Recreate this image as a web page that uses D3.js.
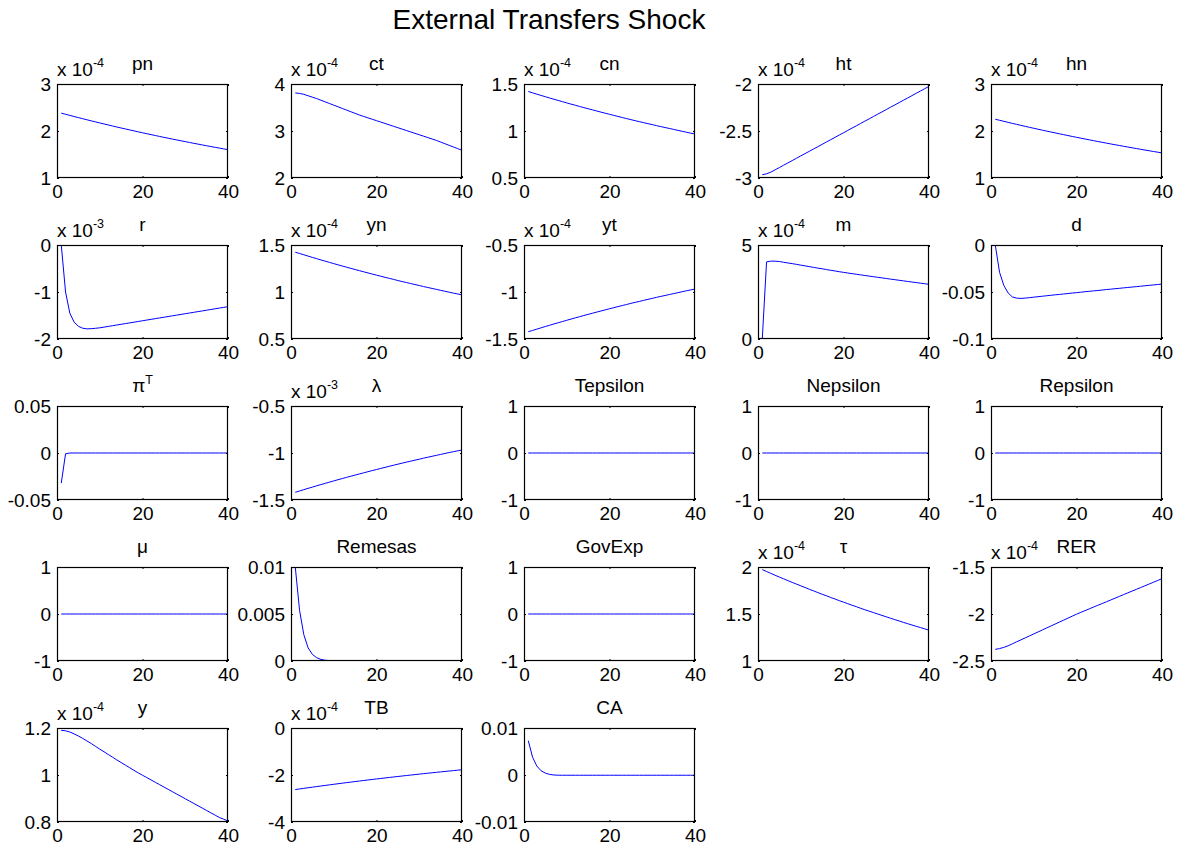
<!DOCTYPE html>
<html>
<head>
<meta charset="utf-8">
<script src="https://cdn.jsdelivr.net/npm/d3@7"></script>
<style>
  html, body { margin: 0; padding: 0; background: #ffffff; }
  svg text { font-family: "Liberation Sans", Arial, Helvetica, sans-serif; fill: #000; }
</style>
</head>
<body>
<svg id="fig" width="1188" height="851"></svg>
<script>
// Impulse responses to an external transfers shock, periods 1..40.
// Values of panels that carry an "x 10^k" label are given in those units.
const periods = [1,2,3,4,5,6,7,8,9,10,11,12,13,14,15,16,17,18,19,20,
                 21,22,23,24,25,26,27,28,29,30,31,32,33,34,35,36,37,38,39,40];

const pn = [2.380,2.356,2.332,2.308,2.285,2.262,2.239,2.216,2.194,2.172,2.150,2.128,2.107,2.085,2.064,2.044,2.023,2.003,1.982,1.962,
            1.943,1.923,1.904,1.884,1.865,1.847,1.828,1.810,1.792,1.774,1.756,1.738,1.721,1.703,1.686,1.669,1.652,1.636,1.619,1.603];
const ct = [3.810,3.800,3.780,3.750,3.720,3.690,3.655,3.620,3.585,3.550,3.515,3.480,3.445,3.410,3.375,3.340,3.310,3.280,3.250,3.220,
            3.190,3.160,3.130,3.100,3.070,3.040,3.010,2.980,2.950,2.920,2.890,2.860,2.830,2.800,2.765,2.730,2.695,2.660,2.625,2.590];
const cn = [1.420,1.406,1.392,1.378,1.365,1.351,1.338,1.325,1.312,1.299,1.286,1.274,1.261,1.249,1.237,1.225,1.213,1.201,1.189,1.178,
            1.166,1.155,1.143,1.132,1.121,1.110,1.099,1.089,1.078,1.068,1.057,1.047,1.037,1.027,1.017,1.007,0.997,0.987,0.977,0.968];
const ht = [-2.965,-2.955,-2.938,-2.913,-2.889,-2.864,-2.839,-2.815,-2.790,-2.765,-2.741,-2.716,-2.691,-2.667,-2.642,-2.617,-2.593,-2.568,-2.543,-2.519,
            -2.494,-2.469,-2.445,-2.420,-2.395,-2.371,-2.346,-2.321,-2.297,-2.272,-2.247,-2.223,-2.198,-2.173,-2.149,-2.124,-2.099,-2.075,-2.050,-2.025];
const hn = [2.250,2.228,2.206,2.184,2.162,2.141,2.120,2.099,2.078,2.058,2.038,2.018,1.998,1.979,1.960,1.941,1.922,1.903,1.884,1.866,
            1.848,1.830,1.812,1.794,1.776,1.759,1.742,1.725,1.708,1.692,1.675,1.659,1.643,1.627,1.611,1.595,1.580,1.564,1.549,1.534];
const r = [0.000,-1.000,-1.450,-1.640,-1.730,-1.770,-1.785,-1.780,-1.772,-1.762,-1.747,-1.732,-1.717,-1.702,-1.687,-1.672,-1.657,-1.642,-1.627,-1.612,
           -1.597,-1.582,-1.567,-1.552,-1.537,-1.522,-1.507,-1.492,-1.477,-1.462,-1.447,-1.432,-1.417,-1.402,-1.387,-1.372,-1.357,-1.342,-1.327,-1.312];
const yn = [1.423,1.410,1.396,1.382,1.368,1.355,1.341,1.328,1.315,1.302,1.289,1.276,1.264,1.251,1.239,1.227,1.215,1.203,1.191,1.179,
            1.168,1.156,1.145,1.134,1.122,1.111,1.101,1.090,1.079,1.069,1.058,1.048,1.038,1.028,1.018,1.008,0.998,0.988,0.979,0.970];
const yt = [-1.422,-1.409,-1.395,-1.381,-1.367,-1.354,-1.340,-1.327,-1.314,-1.301,-1.288,-1.275,-1.263,-1.250,-1.238,-1.226,-1.214,-1.202,-1.190,-1.178,
            -1.167,-1.155,-1.144,-1.133,-1.121,-1.110,-1.100,-1.089,-1.078,-1.068,-1.057,-1.047,-1.037,-1.027,-1.017,-1.007,-0.997,-0.987,-0.978,-0.969];
const m = [0.000,4.100,4.140,4.140,4.120,4.080,4.045,4.010,3.970,3.930,3.890,3.850,3.810,3.770,3.735,3.695,3.655,3.620,3.580,3.545,
           3.510,3.477,3.444,3.411,3.378,3.346,3.314,3.282,3.250,3.218,3.186,3.155,3.124,3.093,3.062,3.031,3.000,2.970,2.940,2.910];
const d = [0.0000,-0.0290,-0.0430,-0.0510,-0.0553,-0.0565,-0.0568,-0.0565,-0.0560,-0.0555,-0.0550,-0.0545,-0.0540,-0.0535,-0.0530,-0.0526,-0.0521,-0.0516,-0.0511,-0.0507,
           -0.0502,-0.0497,-0.0493,-0.0488,-0.0484,-0.0479,-0.0474,-0.0470,-0.0465,-0.0461,-0.0456,-0.0452,-0.0447,-0.0443,-0.0438,-0.0434,-0.0429,-0.0425,-0.0420,-0.0416];
const piT = [-0.0320,-0.0008,0,0,0,0,0,0,0,0,0,0,0,0,0,0,0,0,0,0,
             0,0,0,0,0,0,0,0,0,0,0,0,0,0,0,0,0,0,0,0];
const lambda = [-1.418,-1.404,-1.390,-1.376,-1.363,-1.349,-1.336,-1.323,-1.310,-1.297,-1.284,-1.272,-1.259,-1.247,-1.235,-1.223,-1.211,-1.199,-1.187,-1.176,
                -1.164,-1.153,-1.141,-1.130,-1.119,-1.108,-1.097,-1.087,-1.076,-1.066,-1.055,-1.045,-1.035,-1.025,-1.015,-1.005,-0.995,-0.986,-0.977,-0.968];
const Tepsilon = [0,0,0,0,0,0,0,0,0,0,0,0,0,0,0,0,0,0,0,0,0,0,0,0,0,0,0,0,0,0,0,0,0,0,0,0,0,0,0,0];
const Nepsilon = [0,0,0,0,0,0,0,0,0,0,0,0,0,0,0,0,0,0,0,0,0,0,0,0,0,0,0,0,0,0,0,0,0,0,0,0,0,0,0,0];
const Repsilon = [0,0,0,0,0,0,0,0,0,0,0,0,0,0,0,0,0,0,0,0,0,0,0,0,0,0,0,0,0,0,0,0,0,0,0,0,0,0,0,0];
const mu = [0,0,0,0,0,0,0,0,0,0,0,0,0,0,0,0,0,0,0,0,0,0,0,0,0,0,0,0,0,0,0,0,0,0,0,0,0,0,0,0];
const Remesas = [0.01000,0.00540,0.00280,0.00140,0.00070,0.00035,0.00017,0.00008,0.00004,0.00002,0.00001,0,0,0,0,0,0,0,0,0,
                 0,0,0,0,0,0,0,0,0,0,0,0,0,0,0,0,0,0,0,0];
const GovExp = [0,0,0,0,0,0,0,0,0,0,0,0,0,0,0,0,0,0,0,0,0,0,0,0,0,0,0,0,0,0,0,0,0,0,0,0,0,0,0,0];
const tau = [1.972,1.952,1.932,1.912,1.893,1.874,1.855,1.836,1.818,1.800,1.782,1.763,1.746,1.728,1.710,1.694,1.676,1.660,1.642,1.626,
             1.610,1.593,1.578,1.561,1.545,1.530,1.515,1.500,1.485,1.470,1.455,1.440,1.426,1.411,1.397,1.383,1.369,1.356,1.342,1.328];
const RER = [-2.376,-2.368,-2.355,-2.338,-2.317,-2.296,-2.275,-2.254,-2.233,-2.212,-2.191,-2.170,-2.149,-2.128,-2.107,-2.086,-2.065,-2.044,-2.023,-2.002,
             -1.983,-1.964,-1.945,-1.926,-1.907,-1.889,-1.870,-1.851,-1.832,-1.813,-1.794,-1.775,-1.756,-1.738,-1.719,-1.700,-1.681,-1.662,-1.643,-1.624];
const y = [1.190,1.188,1.183,1.175,1.166,1.156,1.145,1.134,1.122,1.110,1.099,1.087,1.076,1.064,1.053,1.042,1.031,1.020,1.009,0.999,
           0.989,0.979,0.969,0.959,0.949,0.939,0.929,0.919,0.909,0.899,0.889,0.879,0.869,0.859,0.849,0.839,0.829,0.819,0.812,0.804];
const TB = [-2.620,-2.594,-2.568,-2.543,-2.518,-2.493,-2.468,-2.444,-2.419,-2.395,-2.372,-2.348,-2.325,-2.302,-2.279,-2.257,-2.234,-2.212,-2.190,-2.168,
            -2.147,-2.126,-2.104,-2.084,-2.063,-2.043,-2.022,-2.002,-1.983,-1.963,-1.943,-1.924,-1.905,-1.886,-1.868,-1.849,-1.831,-1.813,-1.795,-1.777];
const CA = [0.00730,0.00380,0.00190,0.00090,0.00040,0.00012,0.00000,-0.00004,-0.00005,-0.00005,-0.00005,-0.00005,-0.00005,-0.00005,-0.00005,-0.00005,-0.00005,-0.00005,-0.00005,-0.00005,
            -0.00005,-0.00005,-0.00005,-0.00005,-0.00005,-0.00005,-0.00005,-0.00005,-0.00005,-0.00005,-0.00005,-0.00005,-0.00005,-0.00005,-0.00005,-0.00005,-0.00005,-0.00005,-0.00005,-0.00005];

// Panel titles (base text, optional superscript), series, y limits, y ticks and exponents
const titles = [["pn"],["ct"],["cn"],["ht"],["hn"],
                ["r"],["yn"],["yt"],["m"],["d"],
                ["\u03C0","T"],["\u03BB"],["Tepsilon"],["Nepsilon"],["Repsilon"],
                ["\u03BC"],["Remesas"],["GovExp"],["\u03C4"],["RER"],
                ["y"],["TB"],["CA"]];
const series = [pn, ct, cn, ht, hn, r, yn, yt, m, d, piT, lambda, Tepsilon, Nepsilon, Repsilon,
                mu, Remesas, GovExp, tau, RER, y, TB, CA];
const yLimits = [[1,3],[2,4],[0.5,1.5],[-3,-2],[1,3],
                 [-2,0],[0.5,1.5],[-1.5,-0.5],[0,5],[-0.1,0],
                 [-0.05,0.05],[-1.5,-0.5],[-1,1],[-1,1],[-1,1],
                 [-1,1],[0,0.01],[-1,1],[1,2],[-2.5,-1.5],
                 [0.8,1.2],[-4,0],[-0.01,0.01]];
const yTicks = [[1,2,3],[2,3,4],[0.5,1,1.5],[-3,-2.5,-2],[1,2,3],
                [-2,-1,0],[0.5,1,1.5],[-1.5,-1,-0.5],[0,5],[-0.1,-0.05,0],
                [-0.05,0,0.05],[-1.5,-1,-0.5],[-1,0,1],[-1,0,1],[-1,0,1],
                [-1,0,1],[0,0.005,0.01],[-1,0,1],[1,1.5,2],[-2.5,-2,-1.5],
                [0.8,1,1.2],[-4,-2,0],[-0.01,0,0.01]];
const yTickLabels = [["1","2","3"],["2","3","4"],["0.5","1","1.5"],["-3","-2.5","-2"],["1","2","3"],
                     ["-2","-1","0"],["0.5","1","1.5"],["-1.5","-1","-0.5"],["0","5"],["-0.1","-0.05","0"],
                     ["-0.05","0","0.05"],["-1.5","-1","-0.5"],["-1","0","1"],["-1","0","1"],["-1","0","1"],
                     ["-1","0","1"],["0","0.005","0.01"],["-1","0","1"],["1","1.5","2"],["-2.5","-2","-1.5"],
                     ["0.8","1","1.2"],["-4","-2","0"],["-0.01","0","0.01"]];
const exponents = [-4,-4,-4,-4,-4,
                   -3,-4,-4,-4,null,
                   null,-3,null,null,null,
                   null,null,null,-4,-4,
                   -4,-4,null];
const xLimits = [0, 40];
const xTicks = [0, 20, 40];
const figTitle = "External Transfers Shock";

// Grid geometry
const W = 1188, H = 851;
const left0 = 57, colStep = 233.5, top0 = 84, rowStep = 161;
const pw = 171, ph = 94;
const fs = 19;

const svg = d3.select("#fig");
svg.append("rect").attr("width", W).attr("height", H).attr("fill", "#fff");

svg.append("text")
  .attr("x", 549).attr("y", 29)
  .attr("text-anchor", "middle")
  .style("font-size", "28px")
  .text(figTitle);

const defs = svg.append("defs");

series.forEach((vals, i) => {
  const col = i % 5, row = Math.floor(i / 5);
  const x0 = Math.round(left0 + col * colStep), y0 = Math.round(top0 + row * rowStep);
  const g = svg.append("g").attr("transform", `translate(${x0},${y0})`);

  const xs = d3.scaleLinear().domain(xLimits).range([0, pw]);
  const ys = d3.scaleLinear().domain(yLimits[i]).range([ph, 0]);

  defs.append("clipPath").attr("id", `clip${i}`)
    .append("rect").attr("x", 0).attr("y", 0).attr("width", pw).attr("height", ph);

  // data line
  const pts = periods.map((t, k) => [t, vals[k]]);
  g.append("path")
    .datum(pts)
    .attr("clip-path", `url(#clip${i})`)
    .attr("fill", "none")
    .attr("stroke", "#0000ff")
    .attr("stroke-width", 1)
    .attr("d", d3.line().x(p => xs(p[0])).y(p => ys(p[1])));

  const fmtY = v => yTickLabels[i][yTicks[i].indexOf(v)];
  const tick = 2;

  const ax = [
    g.append("g").attr("transform", `translate(0,${ph})`)
      .call(d3.axisBottom(xs).tickValues(xTicks).tickSizeInner(-tick).tickSizeOuter(0).tickPadding(7).tickFormat(d3.format("d"))),
    g.append("g")
      .call(d3.axisTop(xs).tickValues(xTicks).tickSizeInner(-tick).tickSizeOuter(0).tickFormat("")),
    g.append("g")
      .call(d3.axisLeft(ys).tickValues(yTicks[i]).tickSizeInner(-tick).tickSizeOuter(0).tickPadding(6).tickFormat(fmtY)),
    g.append("g").attr("transform", `translate(${pw},0)`)
      .call(d3.axisRight(ys).tickValues(yTicks[i]).tickSizeInner(-tick).tickSizeOuter(0).tickFormat(""))
  ];
  ax.forEach(a => {
    a.select(".domain").remove();
    a.selectAll("line").attr("stroke", "#000").attr("stroke-width", 1);
    a.selectAll("text")
      .attr("fill", "#000")
      .style("font-size", fs + "px")
      .style("font-family", "'Liberation Sans', Arial, Helvetica, sans-serif");
  });

  // box
  g.append("rect")
    .attr("x", 0.5).attr("y", 0.5).attr("width", pw - 1).attr("height", ph - 1)
    .attr("fill", "none").attr("stroke", "#000").attr("stroke-width", 1.2);

  // exponent label
  if (exponents[i] !== null) {
    const e = g.append("text").attr("x", 0).attr("y", -8).style("font-size", fs + "px");
    e.append("tspan").text("x 10");
    e.append("tspan").attr("dy", -9).style("font-size", "12.5px").text(String(exponents[i]));
  }

  // panel title
  const tt = g.append("text").attr("x", pw / 2).attr("y", -14)
    .attr("text-anchor", "middle").style("font-size", fs + "px");
  tt.append("tspan").text(titles[i][0]);
  if (titles[i][1]) {
    tt.append("tspan").attr("dy", -8).style("font-size", "12.5px").text(titles[i][1]);
  }
});
</script>
</body>
</html>
